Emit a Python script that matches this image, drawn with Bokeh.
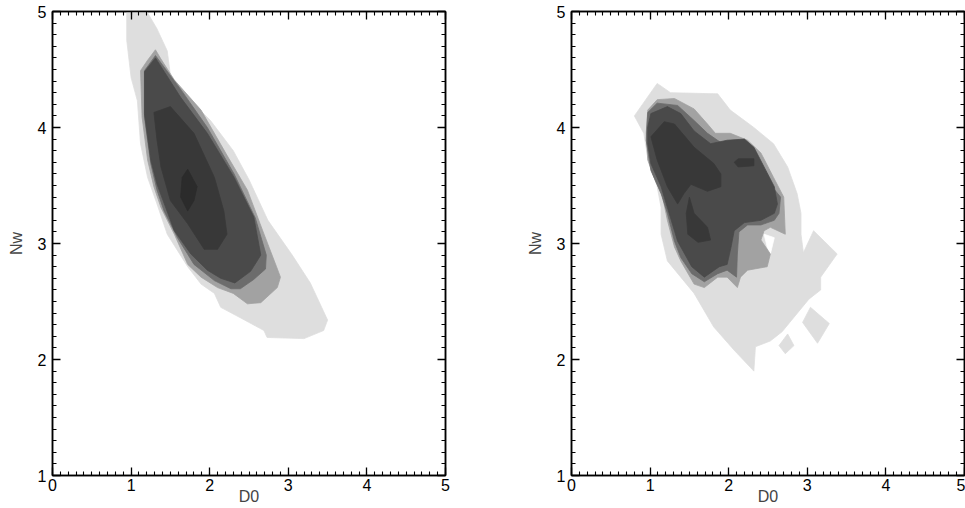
from bokeh.plotting import figure
from bokeh.layouts import row
from bokeh.models import FixedTicker, LinearAxis
from bokeh.embed import file_html
from bokeh.resources import INLINE

# ---------------- data (contour outlines, D0 / Nw units) ----------------
X_TICKS = [0, 1, 2, 3, 4, 5]
Y_TICKS = [1, 2, 3, 4, 5]
X_LABEL = "D0"
Y_LABEL = "Nw"

LEVEL_COLORS = ["#dedede", "#a2a2a2", "#6c6c6c", "#4a4a4a", "#383838", "#2b2b2b"]

# left panel
LEFT_L1 = [(0.945, 5.0), (1.20, 5.0), (1.33, 4.85), (1.46, 4.66), (1.50, 4.45),
           (1.67, 4.29), (2.01, 4.06), (2.30, 3.80), (2.50, 3.55), (2.74, 3.20),
           (3.05, 2.90), (3.28, 2.66), (3.50, 2.34), (3.45, 2.25), (3.20, 2.18),
           (2.73, 2.19), (2.69, 2.25), (2.39, 2.36), (2.14, 2.45), (2.06, 2.57),
           (1.89, 2.65), (1.72, 2.80), (1.46, 3.08), (1.33, 3.34), (1.21, 3.57),
           (1.12, 3.86), (1.08, 4.23), (1.00, 4.43), (0.945, 4.75)]
LEFT_L2 = [(1.31, 4.67), (1.38, 4.59), (1.55, 4.41), (1.89, 4.15), (2.22, 3.76),
           (2.48, 3.46), (2.68, 3.10), (2.85, 2.80), (2.90, 2.71), (2.86, 2.62),
           (2.65, 2.49), (2.48, 2.48), (2.30, 2.57), (2.10, 2.62), (1.89, 2.71),
           (1.72, 2.82), (1.55, 3.08), (1.38, 3.31), (1.29, 3.49), (1.21, 3.72),
           (1.14, 4.09), (1.12, 4.49), (1.21, 4.58)]
LEFT_L3 = [(1.31, 4.62), (1.64, 4.32), (1.97, 4.00), (2.31, 3.60), (2.58, 3.22),
           (2.72, 2.90), (2.71, 2.78), (2.56, 2.69), (2.39, 2.61), (2.27, 2.61),
           (2.06, 2.68), (1.80, 2.82), (1.59, 3.05), (1.42, 3.28), (1.33, 3.46),
           (1.25, 3.69), (1.17, 4.09), (1.17, 4.49)]
LEFT_L4 = [(1.31, 4.60), (1.63, 4.26), (1.97, 3.95), (2.31, 3.57), (2.56, 3.23),
           (2.65, 2.90), (2.52, 2.76), (2.32, 2.66), (2.14, 2.70), (1.97, 2.77),
           (1.76, 2.91), (1.55, 3.11), (1.33, 3.51), (1.25, 3.72), (1.17, 4.12),
           (1.17, 4.48)]
LEFT_L5 = [(1.29, 4.13), (1.50, 4.18), (1.80, 3.95), (2.06, 3.57), (2.18, 3.28),
           (2.22, 3.08), (2.10, 2.95), (1.93, 2.95), (1.72, 3.17), (1.50, 3.37),
           (1.38, 3.66), (1.33, 3.89)]
LEFT_L6 = [(1.72, 3.64), (1.84, 3.49), (1.80, 3.37), (1.72, 3.28), (1.63, 3.40),
           (1.65, 3.57)]

# right panel
RIGHT_L1_MAIN = [(0.80, 4.10), (1.09, 4.38), (1.26, 4.30), (1.86, 4.29), (2.02, 4.15),
                 (2.32, 4.00), (2.57, 3.86), (2.75, 3.66), (2.87, 3.43), (2.92, 3.26),
                 (2.92, 3.08), (2.95, 2.92), (3.08, 3.11), (3.38, 2.91), (3.17, 2.71),
                 (3.17, 2.60), (3.02, 2.52), (2.68, 2.24), (2.53, 2.16), (2.34, 2.11),
                 (2.32, 1.90), (2.07, 2.08), (1.81, 2.28), (1.56, 2.57), (1.39, 2.71),
                 (1.22, 2.85), (1.14, 3.08), (1.14, 3.31), (1.09, 3.49), (0.97, 3.74),
                 (0.92, 3.95)]
RIGHT_L1_DIAMOND_A = [(3.04, 2.45), (3.28, 2.31), (3.13, 2.14), (2.94, 2.32)]
RIGHT_L1_DIAMOND_B = [(2.75, 2.22), (2.83, 2.12), (2.72, 2.05), (2.64, 2.12)]
RIGHT_GAP = [(2.45, 3.08), (2.58, 3.05), (2.53, 2.91), (2.49, 2.97)]
RIGHT_L2 = [(0.97, 4.15), (1.09, 4.24), (1.31, 4.25), (1.56, 4.16), (1.73, 4.03),
            (1.83, 3.95), (2.02, 3.95), (2.24, 3.89), (2.41, 3.78), (2.57, 3.57),
            (2.70, 3.40), (2.72, 3.08), (2.53, 3.14), (2.45, 3.11), (2.41, 3.03),
            (2.53, 2.91), (2.49, 2.80), (2.24, 2.77), (2.15, 2.71), (2.11, 2.62),
            (1.98, 2.71), (1.86, 2.71), (1.69, 2.62), (1.56, 2.65), (1.39, 2.85),
            (1.31, 2.97), (1.22, 3.20), (1.16, 3.40), (1.05, 3.57), (0.97, 3.72),
            (0.95, 3.95)]
RIGHT_L3 = [(0.97, 4.13), (1.09, 4.21), (1.35, 4.19), (1.56, 4.06), (1.73, 3.95),
            (1.90, 3.87), (2.07, 3.89), (2.24, 3.83), (2.49, 3.54), (2.66, 3.40),
            (2.64, 3.26), (2.58, 3.20), (2.41, 3.16), (2.24, 3.16), (2.13, 3.10),
            (2.11, 2.91), (2.10, 2.71), (1.98, 2.77), (1.86, 2.74), (1.69, 2.67),
            (1.53, 2.74), (1.39, 2.88), (1.31, 3.02), (1.22, 3.26), (1.14, 3.43),
            (1.01, 3.63), (0.95, 3.89)]
RIGHT_L4 = [(0.97, 4.00), (1.01, 4.12), (1.22, 4.18), (1.39, 4.12), (1.56, 3.97),
            (1.77, 3.86), (1.98, 3.89), (2.20, 3.90), (2.32, 3.83), (2.45, 3.66),
            (2.58, 3.49), (2.62, 3.34), (2.58, 3.26), (2.41, 3.20), (2.20, 3.18),
            (2.07, 3.11), (2.03, 2.97), (1.98, 2.82), (1.88, 2.80), (1.69, 2.71),
            (1.53, 2.80), (1.35, 3.02), (1.22, 3.31), (1.14, 3.49), (1.01, 3.69),
            (0.97, 3.86)]
RIGHT_L5_A = [(1.01, 3.92), (1.18, 4.05), (1.31, 4.03), (1.56, 3.83), (1.81, 3.69),
              (1.90, 3.60), (1.90, 3.49), (1.73, 3.45), (1.52, 3.51), (1.43, 3.43),
              (1.35, 3.34), (1.22, 3.49), (1.09, 3.72)]
RIGHT_L5_B = [(1.50, 3.40), (1.56, 3.26), (1.73, 3.14), (1.77, 3.03), (1.61, 3.01),
              (1.48, 3.08), (1.46, 3.26)]
RIGHT_L5_C = [(2.07, 3.70), (2.12, 3.73), (2.32, 3.73), (2.32, 3.67), (2.12, 3.66)]

LEFT_LAYERS = [(LEFT_L1, 0), (LEFT_L2, 1), (LEFT_L3, 2), (LEFT_L4, 3), (LEFT_L5, 4), (LEFT_L6, 5)]
RIGHT_LAYERS = [(RIGHT_L1_MAIN, 0), (RIGHT_L1_DIAMOND_A, 0), (RIGHT_L1_DIAMOND_B, 0),
                (RIGHT_GAP, None), (RIGHT_L2, 1), (RIGHT_L3, 2), (RIGHT_L4, 3),
                (RIGHT_L5_A, 4), (RIGHT_L5_B, 4), (RIGHT_L5_C, 4)]

FONT = "Liberation Sans"


def style_axis(ax, ticks, minor, show_labels):
    ax.ticker = FixedTicker(ticks=ticks, minor_ticks=minor)
    ax.major_tick_in = 8
    ax.major_tick_out = 0
    ax.minor_tick_in = 4
    ax.minor_tick_out = 0
    ax.major_tick_line_color = "black"
    ax.minor_tick_line_color = "black"
    ax.major_tick_line_width = 1.3
    ax.minor_tick_line_width = 1.1
    ax.axis_line_color = "black"
    ax.axis_line_width = 1.5
    ax.major_label_text_font = FONT
    if show_labels:
        ax.major_label_text_color = "black"
        ax.major_label_text_font_size = "16px"
    else:
        ax.major_label_text_color = None
        ax.major_label_text_font_size = "1px"
        ax.major_label_standoff = 0


def make_panel(layers, width, border_right):
    p = figure(width=width, height=508, x_range=(0, 5), y_range=(1, 5),
               output_backend="svg", toolbar_location=None,
               min_border_left=52, min_border_right=border_right,
               min_border_top=11, min_border_bottom=33)
    p.grid.visible = False
    p.outline_line_color = "black"
    p.outline_line_width = 1.5
    p.background_fill_color = "white"
    p.border_fill_color = "white"

    for pts, lvl in layers:
        xs = [a for a, b in pts]
        ys = [b for a, b in pts]
        col = "white" if lvl is None else LEVEL_COLORS[lvl]
        p.patch(xs, ys, fill_color=col, line_color=col, line_width=0.8)

    xminor = [i / 10 for i in range(0, 51)]
    yminor = [1 + i / 10 for i in range(0, 41)]
    style_axis(p.xaxis[0], X_TICKS, xminor, True)
    style_axis(p.yaxis[0], Y_TICKS, yminor, True)
    p.xaxis[0].major_label_standoff = 3
    p.xaxis[0].axis_label = X_LABEL
    p.xaxis[0].axis_label_text_font = FONT
    p.xaxis[0].axis_label_text_font_style = "normal"
    p.xaxis[0].axis_label_text_font_size = "16px"
    p.xaxis[0].axis_label_standoff = -6
    p.yaxis[0].major_label_standoff = 6
    p.yaxis[0].axis_label = Y_LABEL
    p.yaxis[0].axis_label_text_font = FONT
    p.yaxis[0].axis_label_text_font_style = "normal"
    p.yaxis[0].axis_label_text_font_size = "16px"
    p.yaxis[0].axis_label_standoff = 10

    top = LinearAxis()
    right = LinearAxis()
    style_axis(top, X_TICKS, xminor, False)
    style_axis(right, Y_TICKS, yminor, False)
    p.add_layout(top, "above")
    p.add_layout(right, "right")
    return p


p1 = make_panel(LEFT_LAYERS, 519, 74)
p2 = make_panel(RIGHT_LAYERS, 446, 1)
layout = row(p1, p2)

open("out.html", "w").write(file_html(layout, INLINE))
